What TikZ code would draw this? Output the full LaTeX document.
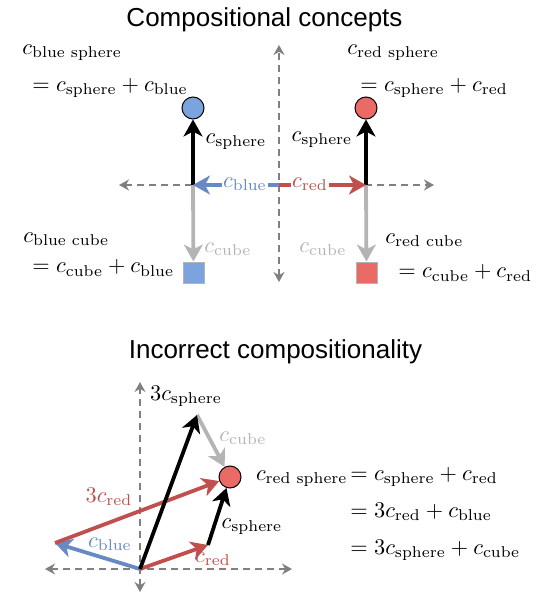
\documentclass[tikz,border=0pt]{standalone}
\usepackage{amsmath}
\usepackage{fontspec}
\newfontfamily\titlefont{Liberation Sans}
\usetikzlibrary{arrows.meta}
\definecolor{bluefill}{RGB}{123,164,222}
\definecolor{bluearrow}{RGB}{104,138,196}
\definecolor{redfill}{RGB}{234,106,102}
\definecolor{redarrow}{RGB}{192,80,77}
\definecolor{vecgray}{RGB}{180,180,180}
\definecolor{axisgray}{RGB}{128,128,128}
\tikzset{
  axisline/.style={draw=axisgray, line width=1.8pt, dash pattern=on 7pt off 5pt,
    {Stealth[length=10pt,width=11pt]}-{Stealth[length=10pt,width=11pt]}},
  vec/.style={line width=3.8pt, -{Stealth[length=17pt,width=19pt,inset=5pt]}},
  lbl/.style={inner sep=0pt, scale=2.24, font=\fontsize{10}{12}\selectfont},
  ttl/.style={inner sep=0pt, font=\titlefont\fontsize{26}{30}\selectfont},
  ball/.style={circle, draw=black, line width=1pt, minimum size=22pt, inner sep=0pt},
  box/.style={rectangle, draw=vecgray, line width=1pt, minimum size=21pt, inner sep=0pt},
}
\begin{document}
\begin{tikzpicture}[x=1pt,y=-1pt]
\useasboundingbox (0,0) rectangle (540,612);
% ---------- titles ----------
\node[ttl, anchor=base] (t1) at (264.5,27) {Compositional concepts};
\node[ttl, anchor=base] (t2) at (275.5,358) {Incorrect compositionality};
% ---------- top panel ----------
\coordinate (vtop) at (279,45);
\coordinate (vbot) at (279,282);
\coordinate (hl) at (119,185);
\coordinate (hr) at (434,185);
\coordinate (o1) at (279,185);
\coordinate (jl) at (193,185);
\coordinate (jr) at (366,185);
\draw[axisline] (vbot) -- (vtop);
\draw[axisline] (hl) -- (hr);
\node[ball, fill=bluefill] (sbl) at (193,108) {};
\node[ball, fill=redfill] (srd) at (366,108) {};
\node[box, fill=bluefill] (cbl) at (193.5,272.5) {};
\node[box, fill=redfill] (crd) at (366.5,272.5) {};
\draw[vec, vecgray] (jl) -- (cbl);
\draw[vec, vecgray] (jr) -- (crd);
\draw[vec, black] (jl) -- (sbl);
\draw[vec, black] (jr) -- (srd);
\draw[vec, bluearrow] (o1) -- (jl);
\draw[vec, redarrow] (o1) -- (jr);
\node[lbl, text=bluearrow, fill=white, inner sep=0.4pt] (lblue) at (245,184) {$c_{\text{blue}}$};
\node[lbl, text=redarrow, fill=white, inner sep=0.4pt] (lred) at (310,184) {$c_{\text{red}}$};
\node[lbl] (lsph1) at (236,142) {$c_{\text{sphere}}$};
\node[lbl] (lsph2) at (322,140) {$c_{\text{sphere}}$};
\node[lbl, text=vecgray] (lcube1) at (228,249) {$c_{\text{cube}}$};
\node[lbl, text=vecgray] (lcube2) at (323,249) {$c_{\text{cube}}$};
\node[lbl, anchor=west] (bs1) at (22,53) {$c_{\text{blue sphere}}$};
\node[lbl, anchor=west] (bs2) at (32,88) {$= c_{\text{sphere}} + c_{\text{blue}}$};
\node[lbl, anchor=west] (rs1) at (347,53) {$c_{\text{red sphere}}$};
\node[lbl, anchor=west] (rs2) at (360,88) {$= c_{\text{sphere}} + c_{\text{red}}$};
\node[lbl, anchor=west] (bc1) at (23,239) {$c_{\text{blue cube}}$};
\node[lbl, anchor=west] (bc2) at (32,268) {$= c_{\text{cube}} + c_{\text{blue}}$};
\node[lbl, anchor=west] (rc1) at (385,240) {$c_{\text{red cube}}$};
\node[lbl, anchor=west] (rc2) at (398,273) {$= c_{\text{cube}} + c_{\text{red}}$};
% ---------- bottom panel ----------
\coordinate (bvt) at (140,382);
\coordinate (bvb) at (140,592);
\coordinate (bhl) at (45,569);
\coordinate (bhr) at (292,569);
\coordinate (O) at (140,569);
\coordinate (B) at (55,543);
\coordinate (R) at (208,545);
\coordinate (S3) at (197,415);
\draw[axisline] (bvb) -- (bvt);
\draw[axisline] (bhl) -- (bhr);
\node[ball, fill=redfill] (C) at (230,477) {};
\draw[vec, bluearrow] (O) -- (B);
\draw[vec, redarrow] (O) -- (R);
\draw[vec, redarrow] (B) -- (C);
\draw[vec, vecgray] (S3) -- (C);
\draw[vec, black] (O) -- (S3);
\draw[vec, black] (R) -- (C);
\node[lbl] (l3s) at (186,396) {$3c_{\text{sphere}}$};
\node[lbl, text=vecgray] (lcb) at (243,438) {$c_{\text{cube}}$};
\node[lbl, text=redarrow] (l3r) at (109,497) {$3c_{\text{red}}$};
\node[lbl, text=bluearrow] (lbb) at (110,544) {$c_{\text{blue}}$};
\node[lbl, text=redarrow] (lrb) at (213,559) {$c_{\text{red}}$};
\node[lbl] (lsb) at (252,527) {$c_{\text{sphere}}$};
\node[lbl, anchor=base east] (e0) at (348,480) {$c_{\text{red sphere}}$};
\node[lbl, anchor=base west] (e1) at (350,480) {$= c_{\text{sphere}} + c_{\text{red}}$};
\node[lbl, anchor=base west] (e2) at (350,517) {$= 3c_{\text{red}} + c_{\text{blue}}$};
\node[lbl, anchor=base west] (e3) at (350,554) {$= 3c_{\text{sphere}} + c_{\text{cube}}$};
\end{tikzpicture}
\end{document}
